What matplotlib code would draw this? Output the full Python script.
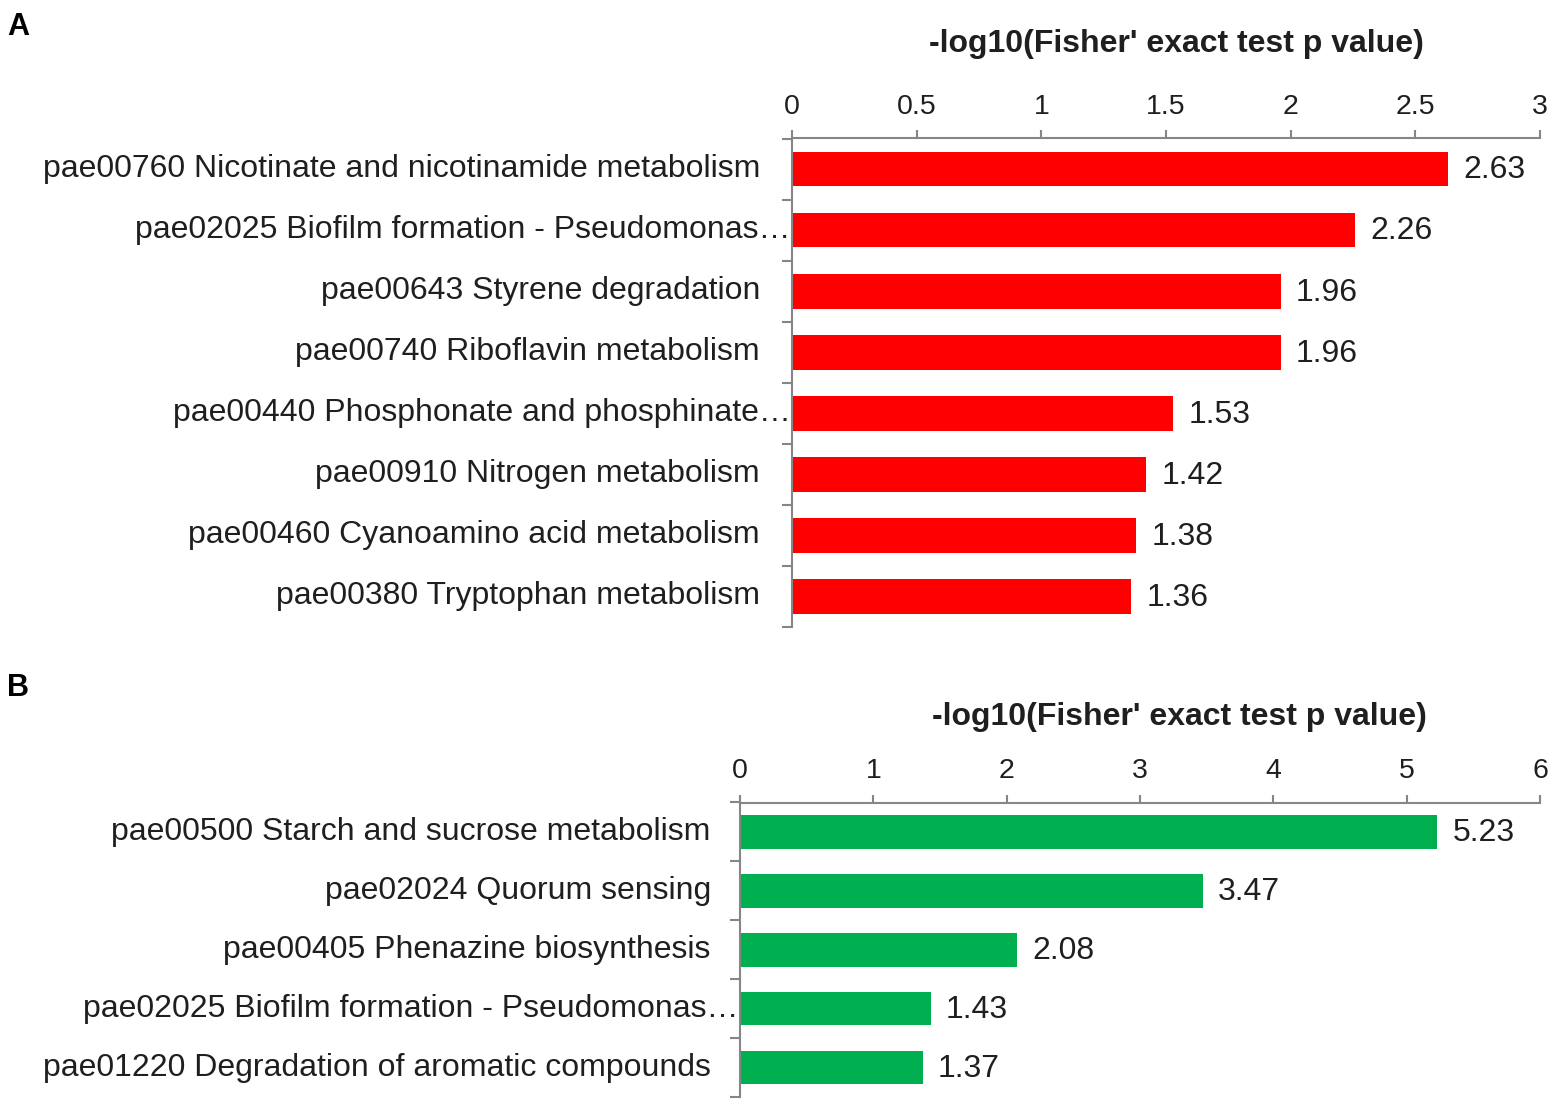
import matplotlib.pyplot as plt
import numpy as np

plt.rcParams["font.family"] = ["Liberation Sans", "DejaVu Sans"]

# panel A data (top to bottom)
a_labels = ["pae00760 Nicotinate and nicotinamide metabolism",
            "pae02025 Biofilm formation - Pseudomonas\u2026",
            "pae00643 Styrene degradation",
            "pae00740 Riboflavin metabolism",
            "pae00440 Phosphonate and phosphinate\u2026",
            "pae00910 Nitrogen metabolism",
            "pae00460 Cyanoamino acid metabolism",
            "pae00380 Tryptophan metabolism"]
a_values = [2.63, 2.26, 1.96, 1.96, 1.53, 1.42, 1.38, 1.36]
a_ticks = [0, 0.5, 1, 1.5, 2, 2.5, 3]
a_ticklabels = ["0", "0.5", "1", "1.5", "2", "2.5", "3"]

# panel B data (top to bottom)
b_labels = ["pae00500 Starch and sucrose metabolism",
            "pae02024 Quorum sensing",
            "pae00405 Phenazine biosynthesis",
            "pae02025 Biofilm formation - Pseudomonas\u2026",
            "pae01220 Degradation of aromatic compounds"]
b_values = [5.23, 3.47, 2.08, 1.43, 1.37]
b_ticks = [0, 1, 2, 3, 4, 5, 6]
b_ticklabels = ["0", "1", "2", "3", "4", "5", "6"]

xlabel = "-log10(Fisher' exact test p value)"
text_color = "#1f1f1f"
spine_color = "#868686"


def draw_panel(ax, labels, values, ticks, ticklabels, color, label_gap):
    n = len(values)
    y = np.arange(n)
    ax.barh(y, values, height=0.57, color=color, zorder=2)
    ax.set_ylim(n - 0.5, -0.5)
    ax.set_xlim(ticks[0], ticks[-1])

    for s in ["right", "bottom"]:
        ax.spines[s].set_visible(False)
    for s in ["top", "left"]:
        ax.spines[s].set_color(spine_color)
        ax.spines[s].set_linewidth(1.5)

    ax.xaxis.tick_top()
    ax.set_xticks(ticks)
    ax.set_xticklabels(ticklabels, fontsize=20.5, color=text_color)
    ax.tick_params(axis="x", direction="out", length=6, width=1.5, color=spine_color, pad=7)

    ax.set_yticks([])
    ax.set_yticks(np.arange(n + 1) - 0.5, minor=True)
    ax.tick_params(axis="y", which="minor", direction="out", length=7, width=1.5, color=spine_color)
    ax.yaxis.set_minor_formatter(plt.NullFormatter())

    for i, (lab, v) in enumerate(zip(labels, values)):
        gap = -1 if lab.endswith("\u2026") else label_gap
        ax.annotate(lab, xy=(0, i), xycoords=("axes fraction", "data"),
                    xytext=(gap, 0), textcoords="offset points",
                    ha="right", va="center", fontsize=23, color=text_color)
        ax.annotate(f"{v:.2f}", xy=(v, i), xytext=(11, -1), textcoords="offset points",
                    ha="left", va="center", fontsize=23, color=text_color)


fig = plt.figure(figsize=(15.62, 11.08), dpi=100, facecolor="white")

ax_a = fig.add_axes([792 / 1562, 1 - 627 / 1108, 748 / 1562, 488.5 / 1108])
ax_b = fig.add_axes([740 / 1562, 1 - 1097 / 1108, 800 / 1562, 294.5 / 1108])

draw_panel(ax_a, a_labels, a_values, a_ticks, a_ticklabels, "#FF0000", -23)
draw_panel(ax_b, b_labels, b_values, b_ticks, b_ticklabels, "#00B050", -21)

fig.text(1176 / 1562, 1 - 44 / 1108, xlabel, ha="center", va="center",
         fontsize=23, fontweight="bold", color=text_color)
fig.text(1179 / 1562, 1 - 717 / 1108, xlabel, ha="center", va="center",
         fontsize=23, fontweight="bold", color=text_color)

fig.text(7 / 1562, 1 - 27 / 1108, "A", ha="left", va="center", fontsize=22, fontweight="bold", color="black")
fig.text(7 / 1562, 1 - 688 / 1108, "B", ha="left", va="center", fontsize=22, fontweight="bold", color="black")

fig.savefig("out.png", dpi=100, facecolor="white")
